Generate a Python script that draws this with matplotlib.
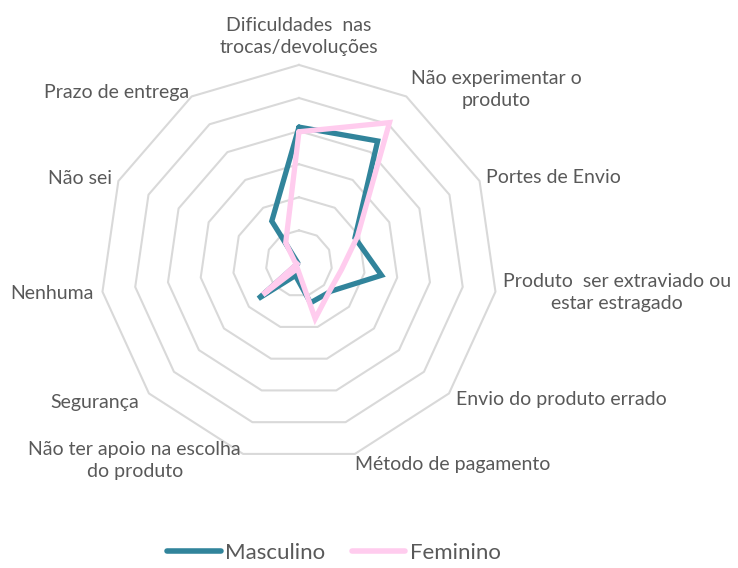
import numpy as np
import matplotlib
matplotlib.use('Agg')
import matplotlib.pyplot as plt

# categories, clockwise from the top
categorias = ["Dificuldades  nas\ntrocas/devoluções",
              "Não experimentar o\nproduto",
              "Portes de Envio",
              "Produto  ser extraviado ou\nestar estragado",
              "Envio do produto errado",
              "Método de pagamento",
              "Não ter apoio na escolha\ndo produto",
              "Segurança",
              "Nenhuma",
              "Não sei",
              "Prazo de entrega"]

# values (rings every 5)
masculino = [20.6, 22.0, 9.3, 12.6, 6.4, 6.2, 1.9, 8.1, 0.2, 0.2, 7.6]
feminino = [19.9, 25.3, 9.7, 6.5, 6.2, 8.7, 0.8, 7.2, 0.3, 0.7, 3.7]
aneis = [5, 10, 15, 20, 25, 30]

# label placement: radius, ha, va
label_r = [31.4, 31.2, 31.1, 31.1, 31.5, 30.3, 31.1, 32.0, 31.4, 31.0, 30.7]
label_ha = ['center', 'left', 'left', 'left', 'left', 'left',
            'right', 'right', 'right', 'right', 'right']
label_va = ['bottom', 'center', 'center', 'center', 'center', 'top',
            'center', 'center', 'center', 'center', 'center']

COR_M = '#31849B'
COR_F = '#FFCCEE'
GRELHA = '#D9D9D9'
TEXTO = '#595959'
FONTE = ['Lato', 'DejaVu Sans']

n = len(categorias)
ang = np.linspace(0, 2 * np.pi, n, endpoint=False)
ang_c = np.append(ang, ang[0])

fig = plt.figure(figsize=(7.38, 5.68), dpi=100)
fig.patch.set_facecolor('white')
ax = fig.add_axes([0.1361, 0.1867, 0.538, 0.699], projection='polar')
ax.set_theta_zero_location('N')
ax.set_theta_direction(-1)
ax.set_ylim(0, 30)
ax.set_xticks([])
ax.set_yticks([])
ax.grid(False)
ax.spines['polar'].set_visible(False)

# polygon grid
for r in aneis:
    ax.plot(ang_c, [r] * (n + 1), color=GRELHA, lw=1.5, zorder=1, clip_on=False)

m = np.append(masculino, masculino[0])
f = np.append(feminino, feminino[0])
ax.plot(ang_c, m, color=COR_M, lw=3.8, zorder=3, label='Masculino',
        solid_joinstyle='miter', solid_capstyle='round')
ax.plot(ang_c, f, color=COR_F, lw=3.8, zorder=4, label='Feminino',
        solid_joinstyle='miter', solid_capstyle='round')

for a, txt, r, ha, va in zip(ang, categorias, label_r, label_ha, label_va):
    ax.text(a, r, txt, ha=ha, va=va, multialignment='center', linespacing=1.35,
            fontsize=14, color=TEXTO, family=FONTE, clip_on=False)

leg = fig.legend(loc='center', bbox_to_anchor=(334 / 738, 1 - 553 / 568),
                 ncol=2, frameon=False, handlelength=2.4, handletextpad=0.2,
                 columnspacing=1.2, prop={'family': FONTE, 'size': 16})
for line in leg.get_lines():
    line.set_linewidth(4)
    line.set_solid_capstyle('round')
for t in leg.get_texts():
    t.set_color(TEXTO)

fig.savefig('out.png', dpi=100, facecolor='white')
